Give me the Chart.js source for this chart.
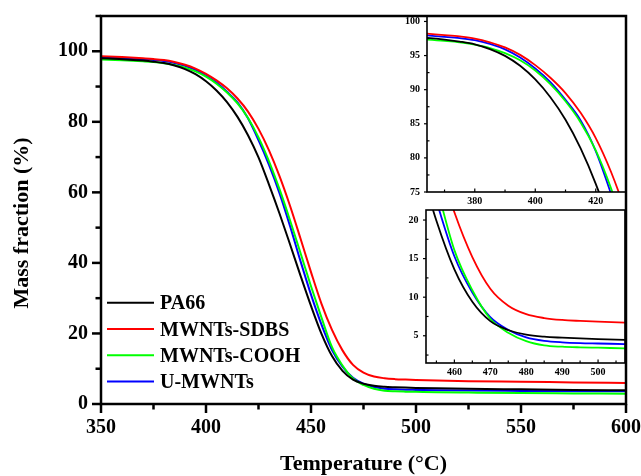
<!DOCTYPE html>
<html>
<head>
<meta charset="utf-8">
<script src="https://cdn.jsdelivr.net/npm/chart.js@4.4.1/dist/chart.umd.min.js"></script>
<style>
  html, body { margin: 0; padding: 0; background: #fff; }
  #wrap { position: relative; width: 641px; height: 476px; }
  #wrap canvas { position: absolute; left: 0; top: 0; }
</style>
</head>
<body>
<div id="wrap">
  <canvas id="mainChart" width="641" height="476"></canvas>
  <canvas id="insetTop" width="641" height="476"></canvas>
  <canvas id="insetBottom" width="641" height="476"></canvas>
</div>
<script>
// TGA curves: temperature (°C) vs remaining mass (%)
const temps = [350, 360, 370, 375, 380, 385, 390, 395, 400, 405, 410, 415, 420, 425, 430, 435, 440, 445, 450, 455,
               460, 465, 470, 475, 480, 485, 490, 495, 500, 510, 525, 550, 575, 600];
const pa66  = [98.0, 97.75, 97.35, 97.05, 96.65, 95.95, 94.95, 93.5, 91.5, 88.9, 85.6, 81.4, 76.2, 69.9, 62.2, 54.0, 45.3, 36.4, 27.8, 19.9,
               13.6, 9.4, 6.9, 5.75, 5.15, 4.88, 4.75, 4.65, 4.57, 4.45, 4.3, 4.15, 4.0, 3.87];
const sdbs  = [98.6, 98.35, 98.0, 97.8, 97.5, 96.95, 96.2, 95.1, 93.6, 91.75, 89.5, 86.6, 82.9, 78.0, 71.9, 64.6, 56.2, 46.9, 37.4, 28.4,
               21.0, 15.2, 11.1, 8.9, 7.8, 7.3, 7.05, 6.92, 6.82, 6.65, 6.45, 6.3, 6.12, 5.96];
const cooh  = [97.7, 97.45, 97.15, 96.95, 96.6, 96.1, 95.35, 94.3, 92.8, 90.8, 88.3, 85.2, 81.1, 75.6, 68.8, 60.9, 52.1, 42.8, 33.4, 24.5,
               16.1, 10.9, 7.2, 5.4, 4.3, 3.75, 3.58, 3.5, 3.45, 3.35, 3.25, 3.1, 3.0, 2.9];
const umwnt = [98.35, 98.1, 97.75, 97.55, 97.25, 96.7, 95.9, 94.7, 93.1, 91.1, 88.5, 85.5, 81.0, 74.8, 67.8, 59.8, 50.5, 40.5, 31.0, 22.5,
               15.3, 10.6, 7.4, 5.75, 4.8, 4.35, 4.15, 4.05, 4.0, 3.9, 3.8, 3.72, 3.65, 3.6];

const seriesNames  = ["PA66", "MWNTs-SDBS", "MWNTs-COOH", "U-MWNTs"];
const seriesColors = ["#000000", "#ff0000", "#00ff00", "#0000ff"];

const serif = "'Liberation Serif', 'Times New Roman', serif";

function makeDatasets(width) {
  return [pa66, sdbs, cooh, umwnt].map((vals, i) => ({
    label: seriesNames[i],
    data: temps.map((t, k) => ({ x: t, y: vals[k] })),
    borderColor: seriesColors[i],
    borderWidth: width,
    pointRadius: 0,
    fill: false,
    cubicInterpolationMode: 'monotone'
  }));
}

// frame around the plot area plus major/minor tick marks
const frameAndTicks = {
  id: 'frameAndTicks',
  afterDraw(chart, args, opts) {
    const ctx = chart.ctx;
    const a = chart.chartArea;
    ctx.save();
    ctx.strokeStyle = '#000';
    ctx.lineWidth = opts.tickWidth;
    ['x', 'y'].forEach(id => {
      const scale = chart.scales[id];
      const m = opts[id];
      const k0 = Math.ceil(scale.min / m.minor - 1e-6);
      const k1 = Math.floor(scale.max / m.minor + 1e-6);
      for (let k = k0; k <= k1; k++) {
        const v = k * m.minor;
        const major = Math.abs(v / m.major - Math.round(v / m.major)) < 1e-6;
        const len = major ? m.majorLen : m.minorLen;
        const dir = major ? m.majorDir : m.minorDir; // 1 = outward, -1 = inward
        const p = scale.getPixelForValue(v);
        ctx.beginPath();
        if (id === 'x') {
          ctx.moveTo(p, a.bottom);
          ctx.lineTo(p, a.bottom + dir * len);
        } else {
          ctx.moveTo(a.left, p);
          ctx.lineTo(a.left - dir * len, p);
        }
        ctx.stroke();
      }
    });
    ctx.lineWidth = opts.frameWidth;
    ctx.strokeRect(a.left, a.top, a.right - a.left, a.bottom - a.top);
    ctx.restore();
  }
};

// axis titles and the legend of the main plot
const mainLabels = {
  id: 'mainLabels',
  afterDraw(chart) {
    const ctx = chart.ctx;
    const a = chart.chartArea;
    ctx.save();
    ctx.fillStyle = '#000';
    ctx.font = 'bold 22px ' + serif;
    ctx.textAlign = 'center';
    ctx.textBaseline = 'alphabetic';
    ctx.fillText('Temperature (\u00B0C)', (a.left + a.right) / 2, 470);
    ctx.save();
    ctx.translate(28, 223);
    ctx.rotate(-Math.PI / 2);
    ctx.fillText('Mass fraction (%)', 0, 0);
    ctx.restore();

    ctx.font = 'bold 20px ' + serif;
    ctx.textAlign = 'left';
    ctx.lineWidth = 2;
    chart.data.datasets.forEach((ds, i) => {
      const y = 302.7 + i * 26.3;
      ctx.strokeStyle = ds.borderColor;
      ctx.beginPath();
      ctx.moveTo(107, y);
      ctx.lineTo(154, y);
      ctx.stroke();
      ctx.fillText(ds.label, 160, y + 6.6);
    });
    ctx.restore();
  }
};

function axis(min, max, step, fontSize, pad, fitSize, horizontal) {
  return {
    type: 'linear',
    min: min,
    max: max,
    ticks: {
      stepSize: step,
      includeBounds: false,
      autoSkip: false,
      maxRotation: 0,
      padding: pad,
      color: '#000',
      font: { family: serif, size: fontSize, weight: 'bold' },
      callback: v => (Math.abs(v / step - Math.round(v / step)) < 1e-6 ? Math.round(v) : '')
    },
    grid: { display: false, drawTicks: false },
    border: { display: false },
    afterFit: s => {
      if (horizontal) {
        s.height = fitSize;
        s.paddingLeft = 0;
        s.paddingRight = 0;
      } else {
        s.width = fitSize;
        s.paddingTop = 0;
        s.paddingBottom = 0;
      }
    }
  };
}

function makeChart(id, box, xr, yr, lineWidth, frame, extraPlugins) {
  return new Chart(document.getElementById(id), {
    type: 'line',
    data: { datasets: makeDatasets(lineWidth) },
    options: {
      responsive: false,
      animation: false,
      events: [],
      layout: {
        padding: {
          left: box.left - box.yw,
          top: box.top,
          right: 641 - box.right,
          bottom: 476 - box.bottom - box.xh
        }
      },
      plugins: {
        legend: { display: false },
        tooltip: { enabled: false },
        frameAndTicks: frame
      },
      scales: {
        x: axis(xr.min, xr.max, xr.step, xr.font, xr.pad, box.xh, true),
        y: axis(yr.min, yr.max, yr.step, yr.font, yr.pad, box.yw, false)
      }
    },
    plugins: [frameAndTicks].concat(extraPlugins)
  });
}

// main plot
makeChart('mainChart',
  { left: 101, right: 626, top: 16, bottom: 404, yw: 101, xh: 72 },
  { min: 350, max: 600, step: 50, font: 20, pad: 12 },
  { min: 0, max: 110, step: 20, font: 20, pad: 13 },
  2,
  {
    tickWidth: 2.5, frameWidth: 2.5,
    x: { major: 50, minor: 25, majorLen: 9, minorLen: 5.5, majorDir: 1, minorDir: 1 },
    y: { major: 20, minor: 10, majorLen: 9, minorLen: 5.5, majorDir: 1, minorDir: 1 }
  },
  [mainLabels]);

// inset: onset of decomposition
makeChart('insetTop',
  { left: 427, right: 626, top: 16, bottom: 192, yw: 40, xh: 20 },
  { min: 364.2, max: 430, step: 20, font: 10, pad: 3 },
  { min: 75, max: 100.8, step: 5, font: 10, pad: 7 },
  1.8,
  {
    tickWidth: 1.2, frameWidth: 1.6,
    x: { major: 20, minor: 10, majorLen: 3.5, minorLen: 2.5, majorDir: -1, minorDir: -1 },
    y: { major: 5, minor: 2.5, majorLen: 3, minorLen: 2.5, majorDir: 1, minorDir: -1 }
  },
  []);

// inset: char residue
makeChart('insetBottom',
  { left: 426, right: 625, top: 210, bottom: 363, yw: 40, xh: 20 },
  { min: 452.1, max: 507.5, step: 10, font: 10, pad: 3 },
  { min: 1.47, max: 21.3, step: 5, font: 10, pad: 7.5 },
  1.8,
  {
    tickWidth: 1.2, frameWidth: 1.6,
    x: { major: 10, minor: 5, majorLen: 3.5, minorLen: 2.5, majorDir: -1, minorDir: -1 },
    y: { major: 5, minor: 2.5, majorLen: 3, minorLen: 2.5, majorDir: 1, minorDir: -1 }
  },
  []);
</script>
</body>
</html>
